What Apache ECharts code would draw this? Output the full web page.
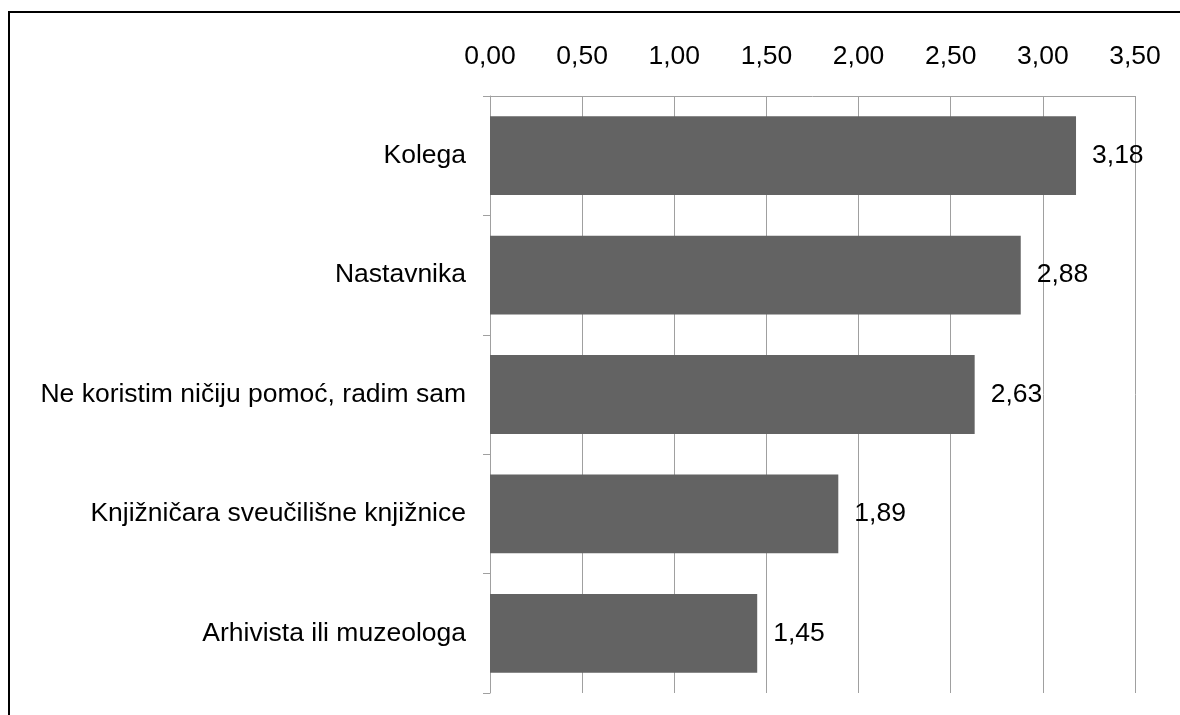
<!DOCTYPE html>
<html>
<head>
<meta charset="utf-8">
<script src="https://cdn.jsdelivr.net/npm/echarts@6/dist/echarts.min.js"></script>
<style>
  html, body { margin: 0; padding: 0; background: #fff; }
  #chart { width: 1180px; height: 715px; }
</style>
</head>
<body>
<div id="chart"></div>
<script>
// data
const categories = [
  'Kolega',
  'Nastavnika',
  'Ne koristim ničiju pomoć, radim sam',
  'Knjižničara sveučilišne knjižnice',
  'Arhivista ili muzeologa'
]
const values = [3.18, 2.88, 2.63, 1.89, 1.45]
const axisMin = 0
const axisMax = 3.5
const axisStep = 0.5

const font = '"Liberation Sans", Arial, sans-serif'
const gridColor = '#a0a0a0'
const fmt = v => Number(v).toFixed(2).replace('.', ',')

const myChart = echarts.init(document.getElementById('chart'))

const option = {
  animation: false,
  backgroundColor: '#fff',
  textStyle: { fontFamily: font },
  grid: {
    left: 490,
    right: 45,
    top: 96,
    bottom: 22,
    containLabel: false
  },
  graphic: [
    // black frame (top + left), as in the original image
    { type: 'line', shape: { x1: 8, y1: 12, x2: 1180, y2: 12 }, style: { stroke: '#000', lineWidth: 2 } },
    { type: 'line', shape: { x1: 9, y1: 11, x2: 9, y2: 715 }, style: { stroke: '#000', lineWidth: 2 } }
  ],
  xAxis: {
    type: 'value',
    position: 'top',
    min: axisMin,
    max: axisMax,
    interval: axisStep,
    axisLine: { show: true, lineStyle: { color: gridColor, width: 1 } },
    axisTick: { show: false },
    axisLabel: {
      formatter: fmt,
      color: '#000',
      fontSize: 26.5,
      fontFamily: font,
      margin: 26
    },
    splitLine: { show: true, lineStyle: { color: gridColor, width: 1 } }
  },
  yAxis: {
    type: 'category',
    inverse: true,
    data: categories,
    axisLine: { show: true, lineStyle: { color: gridColor, width: 1 } },
    axisTick: { show: true, inside: false, length: 7, lineStyle: { color: gridColor } },
    axisLabel: {
      color: '#000',
      fontSize: 26.5,
      fontFamily: font,
      margin: 24
    },
    splitLine: { show: false }
  },
  series: [
    {
      type: 'bar',
      data: values,
      barCategoryGap: '34%',
      itemStyle: { color: '#636363' },
      label: {
        show: true,
        position: 'right',
        distance: 16,
        color: '#000',
        fontSize: 26.5,
        fontFamily: font,
        formatter: p => fmt(p.value)
      }
    }
  ]
}

myChart.setOption(option)
window.onresize = () => { myChart.resize() }
</script>
</body>
</html>
